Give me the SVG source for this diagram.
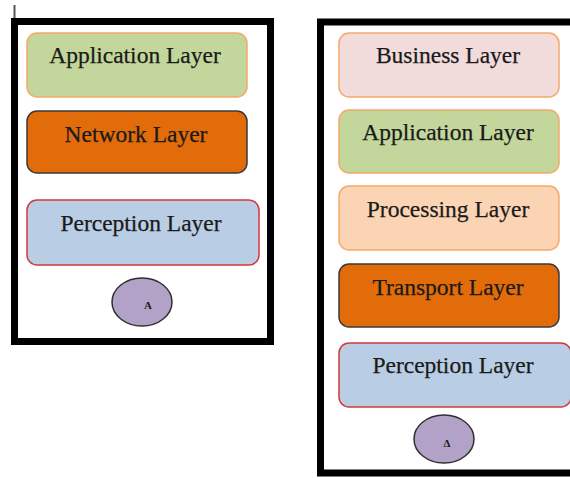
<svg xmlns="http://www.w3.org/2000/svg" width="570" height="478" viewBox="0 0 570 478">
  <style>
    .frame { fill: #ffffff; stroke: #000000; stroke-width: 7; }
    .layer { stroke-width: 1.5; }
    .app { fill: #c3d69b; stroke: #f5a96a; }
    .net { fill: #e36c0a; stroke: #3a3a3a; }
    .per { fill: #b9cde5; stroke: #d23a3a; }
    .bus { fill: #f2dcdb; stroke: #f5a96a; }
    .pro { fill: #fbd4b4; stroke: #f5a96a; }
    .dot { fill: #b3a2c7; stroke: #2f2f2f; stroke-width: 1.5; }
    .lbl { font-family: "Liberation Serif", "Times New Roman", serif; font-size: 23.5px; fill: #1a1a1a; stroke: #1a1a1a; stroke-width: 0.25; text-anchor: middle; }
    .tag { font-family: "Liberation Serif", "Times New Roman", serif; font-size: 11px; font-weight: bold; fill: #1a1a1a; text-anchor: middle; }
  </style>

  <!-- small marker tick above the left stack -->
  <line x1="14.5" y1="5" x2="14.5" y2="20" stroke="#555" stroke-width="2"/>

  <!-- left stack: three-layer model -->
  <g id="stack-a">
    <rect class="frame" x="14.5" y="21.5" width="256" height="320"/>
    <g id="a-application">
      <rect class="layer app" x="27" y="33" width="220" height="64" rx="10"/>
      <text class="lbl" x="135" y="63">Application Layer</text>
    </g>
    <g id="a-network">
      <rect class="layer net" x="27" y="111" width="220" height="62" rx="10"/>
      <text class="lbl" x="136" y="142">Network Layer</text>
    </g>
    <g id="a-perception">
      <rect class="layer per" x="27" y="200" width="232" height="65" rx="10"/>
      <text class="lbl" x="141" y="231">Perception Layer</text>
    </g>
    <g id="a-tag">
      <ellipse class="dot" cx="142" cy="302" rx="30" ry="24"/>
      <text class="tag" x="148" y="309">A</text>
    </g>
  </g>

  <!-- right stack: five-layer model -->
  <g id="stack-b">
    <rect class="frame" x="320.5" y="22" width="260" height="451"/>
    <g id="b-business">
      <rect class="layer bus" x="339" y="33" width="220" height="64" rx="10"/>
      <text class="lbl" x="448" y="63">Business Layer</text>
    </g>
    <g id="b-application">
      <rect class="layer app" x="339" y="110" width="220" height="63" rx="10"/>
      <text class="lbl" x="448" y="140">Application Layer</text>
    </g>
    <g id="b-processing">
      <rect class="layer pro" x="339" y="186" width="220" height="64" rx="10"/>
      <text class="lbl" x="448" y="217">Processing Layer</text>
    </g>
    <g id="b-transport">
      <rect class="layer net" x="339" y="264" width="220" height="63" rx="10"/>
      <text class="lbl" x="448" y="295">Transport Layer</text>
    </g>
    <g id="b-perception">
      <rect class="layer per" x="339" y="343" width="232" height="64" rx="10"/>
      <text class="lbl" x="453" y="373">Perception Layer</text>
    </g>
    <g id="b-tag">
      <ellipse class="dot" cx="444" cy="439" rx="30" ry="24"/>
      <text class="tag" x="447" y="447">Δ</text>
    </g>
  </g>

  <!-- connectors: none in this figure -->
  <g id="connectors"/>
</svg>
